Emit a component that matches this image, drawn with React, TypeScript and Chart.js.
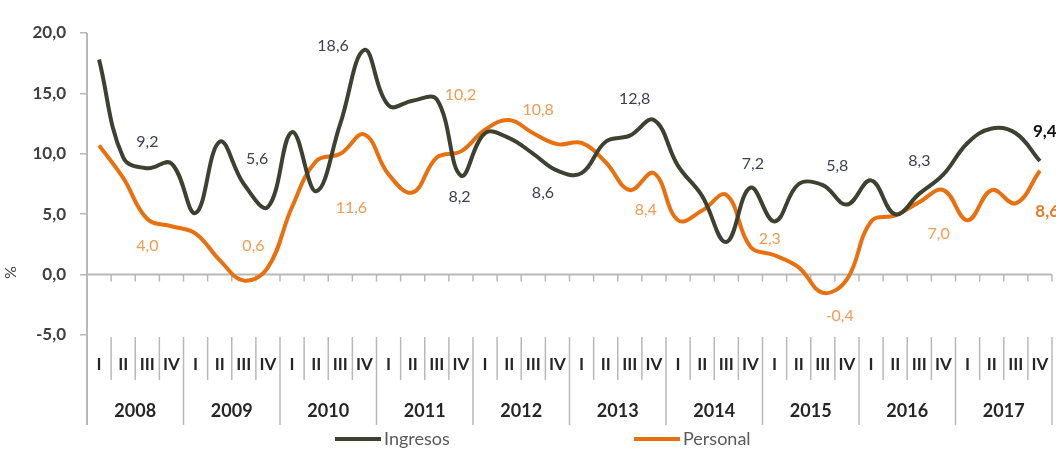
import React, { useEffect, useRef } from "react";
import { Chart, registerables } from "chart.js";

Chart.register(...registerables);

// ---- data ----
const years = ["2008", "2009", "2010", "2011", "2012", "2013", "2014", "2015", "2016", "2017"];
const quarters = ["I", "II", "III", "IV"];
const categories = years.flatMap((y) => quarters.map((q) => `${q} ${y}`));

const ingresos = [
  17.8, 9.7, 8.8, 9.2,
  5.1, 11.0, 7.5, 5.6,
  11.8, 6.9, 12.5, 18.6,
  14.0, 14.4, 14.5, 8.2,
  11.7, 11.3, 10.0, 8.6,
  8.4, 11.0, 11.5, 12.8,
  9.0, 6.5, 2.7, 7.2,
  4.4, 7.5, 7.4, 5.8,
  7.8, 5.0, 6.7, 8.3,
  10.9, 12.1, 11.7, 9.4,
];

const personal = [
  10.7, 8.0, 4.6, 4.0,
  3.4, 1.2, -0.5, 0.6,
  5.6, 9.4, 10.0, 11.6,
  8.3, 6.8, 9.7, 10.2,
  12.0, 12.8, 11.7, 10.8,
  10.9, 9.3, 7.0, 8.4,
  4.5, 5.3, 6.6, 2.3,
  1.6, 0.6, -1.5, -0.4,
  4.4, 4.9, 6.0, 7.0,
  4.5, 7.0, 5.9, 8.6,
];

const yMin = -5;
const yMax = 20;
const yStep = 5;

// ---- layout of the annotation labels (category index, value units) ----
const ingresosLabelPos = [
  [2.0, 10.96], [6.55, 9.55], [9.7, 18.94], [14.94, 6.4], [18.4, 6.8],
  [22.2, 14.53], [27.1, 9.14], [30.6, 8.97], [34.0, 9.39], [39.2, 11.88],
];
const personalLabelPos = [
  [2.0, 2.41], [6.4, 2.41], [10.46, 5.56], [14.98, 14.87], [18.2, 13.62],
  [22.66, 5.32], [27.8, 2.99], [30.7, -3.41], [34.8, 3.41], [39.3, 5.23],
];

const fmt = (v: number) => v.toFixed(1).replace(".", ",");

const C_ING = "#3d4230";
const C_PER = "#e8700f";
const C_AXIS = "#b8b8b8";
const FONT = "Lato, 'Open Sans', sans-serif";

const decorPlugin = {
  id: "decor",
  beforeDatasetsDraw(chart: any) {
    const { ctx, chartArea: ca, scales } = chart;
    const x = scales.x;
    const y = scales.y;
    const n = categories.length;
    const half = (x.getPixelForValue(1) - x.getPixelForValue(0)) / 2;
    const y0 = y.getPixelForValue(0);
    ctx.save();
    ctx.strokeStyle = C_AXIS;
    ctx.lineWidth = 2;
    ctx.beginPath();
    ctx.moveTo(ca.left, y0);
    ctx.lineTo(ca.right, y0);
    ctx.stroke();
    ctx.lineWidth = 1.5;
    for (let i = 1; i <= n; i++) {
      const bx = x.getPixelForValue(i - 1) + half;
      ctx.beginPath();
      ctx.moveTo(bx, y0);
      ctx.lineTo(bx, y0 + 7);
      ctx.stroke();
    }
    ctx.restore();
  },
  afterDatasetsDraw(chart: any) {
    const { ctx, chartArea: ca, scales } = chart;
    const x = scales.x;
    const y = scales.y;
    const n = categories.length;
    const half = (x.getPixelForValue(1) - x.getPixelForValue(0)) / 2;
    const tableTop = ca.bottom + 2;
    const qBottom = tableTop + 43;
    const tableBottom = tableTop + 88;
    ctx.save();

    // y axis line extended down through the category table
    ctx.strokeStyle = C_AXIS;
    ctx.lineWidth = 2;
    ctx.beginPath();
    ctx.moveTo(ca.left, ca.top);
    ctx.lineTo(ca.left, tableBottom);
    ctx.stroke();

    // separators
    ctx.lineWidth = 1.5;
    for (let i = 1; i <= n; i++) {
      const bx = x.getPixelForValue(i - 1) + half;
      const isYear = i % 4 === 0;
      ctx.beginPath();
      ctx.moveTo(bx, tableTop);
      ctx.lineTo(bx, isYear ? tableBottom : qBottom);
      ctx.stroke();
    }

    // quarter labels
    ctx.fillStyle = "#262626";
    ctx.textAlign = "center";
    ctx.textBaseline = "middle";
    ctx.font = `bold 17px ${FONT}`;
    categories.forEach((_, i) => {
      ctx.fillText(quarters[i % 4], x.getPixelForValue(i), tableTop + 28);
    });
    // year labels
    ctx.font = `bold 18px ${FONT}`;
    years.forEach((yr, k) => {
      const cx = (x.getPixelForValue(4 * k) + x.getPixelForValue(4 * k + 3)) / 2;
      ctx.fillText(yr, cx, tableTop + 74);
    });

    // data annotations (Q4 values)
    ctx.font = `16px ${FONT}`;
    years.forEach((_, k) => {
      const vi = ingresos[4 * k + 3];
      const [xi, yi] = ingresosLabelPos[k];
      const last = k === years.length - 1;
      ctx.fillStyle = last ? "#111111" : "#3c4150";
      ctx.font = last ? `bold 17px ${FONT}` : `16px ${FONT}`;
      ctx.fillText(fmt(vi), x.getPixelForValue(0) + xi * 2 * half, y.getPixelForValue(yi));

      const vp = personal[4 * k + 3];
      const [xp, yp] = personalLabelPos[k];
      ctx.fillStyle = last ? "#e97a25" : "#f29b52";
      ctx.font = last ? `bold 17px ${FONT}` : `16px ${FONT}`;
      ctx.fillText(fmt(vp), x.getPixelForValue(0) + xp * 2 * half, y.getPixelForValue(yp));
    });

    // axis title
    ctx.save();
    ctx.translate(11, y.getPixelForValue(0) - 2);
    ctx.rotate(-Math.PI / 2);
    ctx.fillStyle = "#404040";
    ctx.font = `16px ${FONT}`;
    ctx.fillText("%", 0, 0);
    ctx.restore();

    // legend
    const ly = 439;
    const items = [
      { label: chart.data.datasets[0].label, color: C_ING, x0: 335 },
      { label: chart.data.datasets[1].label, color: C_PER, x0: 634 },
    ];
    items.forEach((it) => {
      ctx.strokeStyle = it.color;
      ctx.lineWidth = 4;
      ctx.beginPath();
      ctx.moveTo(it.x0, ly);
      ctx.lineTo(it.x0 + 46, ly);
      ctx.stroke();
      ctx.fillStyle = "#595959";
      ctx.font = `18px ${FONT}`;
      ctx.textAlign = "left";
      ctx.fillText(it.label, it.x0 + 49, ly);
    });

    ctx.restore();
  },
};

export default function App() {
  const ref = useRef<HTMLCanvasElement | null>(null);

  useEffect(() => {
    if (!ref.current) return;
    const chart = new Chart(ref.current, {
      type: "line",
      data: {
        labels: categories,
        datasets: [
          {
            label: "Ingresos",
            data: ingresos,
            borderColor: C_ING,
            backgroundColor: C_ING,
            borderWidth: 4,
            pointRadius: 0,
            tension: 0.4,
          },
          {
            label: "Personal",
            data: personal,
            borderColor: C_PER,
            backgroundColor: C_PER,
            borderWidth: 4,
            pointRadius: 0,
            tension: 0.4,
          },
        ],
      },
      options: {
        responsive: false,
        animation: false,
        devicePixelRatio: 1,
        layout: { padding: { left: 0, right: 4, top: 33, bottom: 138 } },
        plugins: {
          legend: { display: false },
          tooltip: { enabled: false },
        },
        scales: {
          x: {
            type: "category",
            display: false,
            offset: true,
          },
          y: {
            min: yMin,
            max: yMax,
            afterFit: (scale: any) => {
              scale.width = 87;
            },
            ticks: {
              stepSize: yStep,
              color: "#404040",
              padding: 14,
              font: { family: FONT, size: 17, weight: "bold" },
              callback: (v: any) => fmt(Number(v)),
            },
            grid: {
              drawOnChartArea: false,
              drawTicks: true,
              tickLength: 7,
              color: C_AXIS,
              lineWidth: 1.5,
            },
            border: { display: false },
          },
        },
      },
      plugins: [decorPlugin],
    });
    return () => chart.destroy();
  }, []);

  return (
    <div style={{ position: "absolute", left: 0, top: 0, width: 1056, height: 473, background: "#fff" }}>
      <canvas ref={ref} width={1056} height={473} style={{ display: "block" }} />
    </div>
  );
}
